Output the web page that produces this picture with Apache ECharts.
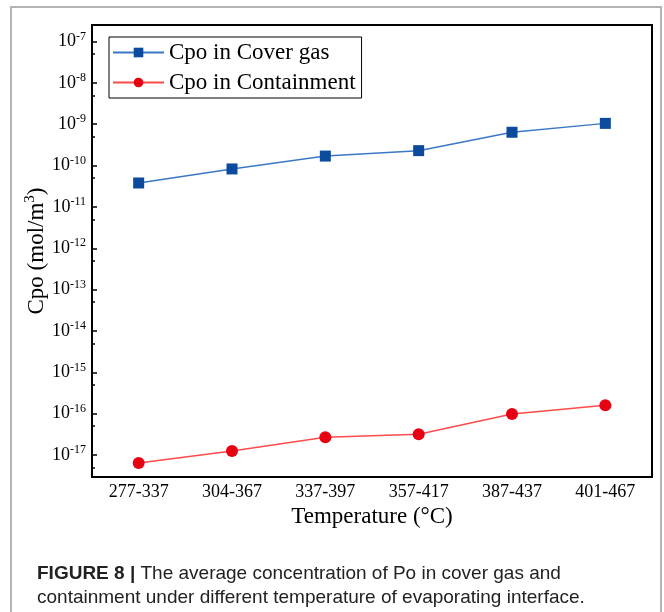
<!DOCTYPE html>
<html>
<head>
<meta charset="utf-8">
<script src="https://cdn.jsdelivr.net/npm/echarts@6/dist/echarts.min.js"></script>
<style>
  html, body { margin: 0; padding: 0; background: #ffffff; }
  #chart { width: 664px; height: 612px; }
</style>
</head>
<body>
<div id="chart"></div>
<script>
// Temperature ranges of the evaporating interface (°C)
const categories = ['277-337', '304-367', '337-397', '357-417', '387-437', '401-467'];
// Average Po concentration, mol/m³
const coverGas = [3.8e-11, 8.3e-11, 1.7e-10, 2.3e-10, 6.4e-10, 1.05e-9];
const containment = [6.4e-18, 1.25e-17, 2.7e-17, 3.2e-17, 9.8e-17, 1.6e-16];
// Decade exponents that carry a labelled tick on the concentration axis
const decadeExponents = [-17, -16, -15, -14, -13, -12, -11, -10, -9, -8, -7];
// Axis span, as powers of ten
const yMinExp = -17.53;
const yMaxExp = -6.6;

const serif = 'Liberation Serif';
// minor ticks sit at 5 × 10^n
const halfExponents = decadeExponents.map(d => d - 1 + Math.log10(5));

const chart = echarts.init(document.getElementById('chart'));

const option = {
  animation: false,
  backgroundColor: '#ffffff',
  textStyle: { fontFamily: serif },
  grid: {
    left: 92, right: 12, top: 25, bottom: 135,
    show: true, borderColor: '#000', borderWidth: 2, backgroundColor: 'transparent'
  },
  graphic: [{
    type: 'rect',
    silent: true,
    shape: { x: 11, y: 7, width: 650, height: 700 },
    style: { fill: 'none', stroke: '#b4b4b4', lineWidth: 2 }
  }],
  title: {
    left: 37, top: 562,
    padding: 0,
    text: '{b|FIGURE 8 |} The average concentration of Po in cover gas and\ncontainment under different temperature of evaporating interface.',
    textStyle: {
      fontFamily: 'Liberation Sans', fontSize: 19, fontWeight: 'normal', color: '#222', lineHeight: 24,
      rich: { b: { fontFamily: 'Liberation Sans', fontSize: 19, fontWeight: 'bold', color: '#222', lineHeight: 24 } }
    }
  },
  legend: {
    orient: 'vertical',
    left: 109, top: 37,
    padding: [4, 6, 4, 3],
    itemGap: 7,
    itemWidth: 51, itemHeight: 12,
    borderColor: '#000', borderWidth: 1,
    textStyle: { fontFamily: serif, fontSize: 23, color: '#000' },
    data: ['Cpo in Cover gas', 'Cpo in Containment']
  },
  xAxis: [{
    type: 'category',
    data: categories,
    position: 'bottom',
    boundaryGap: true,
    axisLine: { lineStyle: { color: '#000', width: 2 } },
    axisTick: { inside: true, alignWithLabel: true, length: 5, lineStyle: { color: '#000', width: 1.5 } },
    axisLabel: { fontFamily: serif, fontSize: 18, color: '#000', margin: 6 },
    name: 'Temperature (°C)',
    nameLocation: 'middle',
    nameGap: 28,
    nameMoveOverlap: false,
    nameTextStyle: { fontFamily: serif, fontSize: 23, color: '#000' },
    splitLine: { show: false }
  }, {
    type: 'category',
    data: categories,
    position: 'bottom',
    boundaryGap: true,
    axisLine: { show: false },
    axisTick: { inside: true, length: 3, lineStyle: { color: '#000', width: 1.5 } },
    axisLabel: { show: false },
    splitLine: { show: false }
  }],
  yAxis: [{
    type: 'value',
    position: 'left',
    min: yMinExp, max: yMaxExp,
    axisLine: { show: true, lineStyle: { color: '#000', width: 2 } },
    axisTick: { show: true, inside: true, length: 5, customValues: decadeExponents, lineStyle: { color: '#000', width: 1.5 } },
    axisLabel: {
      customValues: decadeExponents,
      margin: 6,
      formatter: v => '{b|10}{s|' + Math.round(v) + '}',
      rich: {
        b: { fontFamily: serif, fontSize: 18, color: '#000' },
        s: { fontFamily: serif, fontSize: 12, color: '#000', padding: [0, 0, 10, 0] }
      }
    },
    splitLine: { show: false },
    name: 'Cpo (mol/m{s|3})',
    nameLocation: 'middle',
    nameGap: 42,
    nameMoveOverlap: false,
    nameRotate: 90,
    nameTextStyle: {
      fontFamily: serif, fontSize: 23, color: '#000',
      rich: { s: { fontFamily: serif, fontSize: 15, color: '#000', padding: [0, 0, 12, 0] } }
    }
  }, {
    type: 'value',
    position: 'left',
    min: yMinExp, max: yMaxExp,
    axisLine: { show: false },
    axisTick: { show: true, inside: true, length: 3, customValues: halfExponents, lineStyle: { color: '#000', width: 1.5 } },
    axisLabel: { show: false },
    splitLine: { show: false }
  }],
  series: [{
    name: 'Cpo in Cover gas',
    type: 'line',
    data: coverGas.map(v => Math.log10(v)),
    symbol: 'rect',
    symbolSize: 11,
    itemStyle: { color: '#0b4a9c' },
    lineStyle: { color: '#3a78c6', width: 1.5 }
  }, {
    name: 'Cpo in Containment',
    type: 'line',
    data: containment.map(v => Math.log10(v)),
    symbol: 'circle',
    symbolSize: 12,
    itemStyle: { color: '#e60012' },
    lineStyle: { color: '#ff4a4a', width: 1.5 }
  }]
};

chart.setOption(option);
</script>
</body>
</html>
